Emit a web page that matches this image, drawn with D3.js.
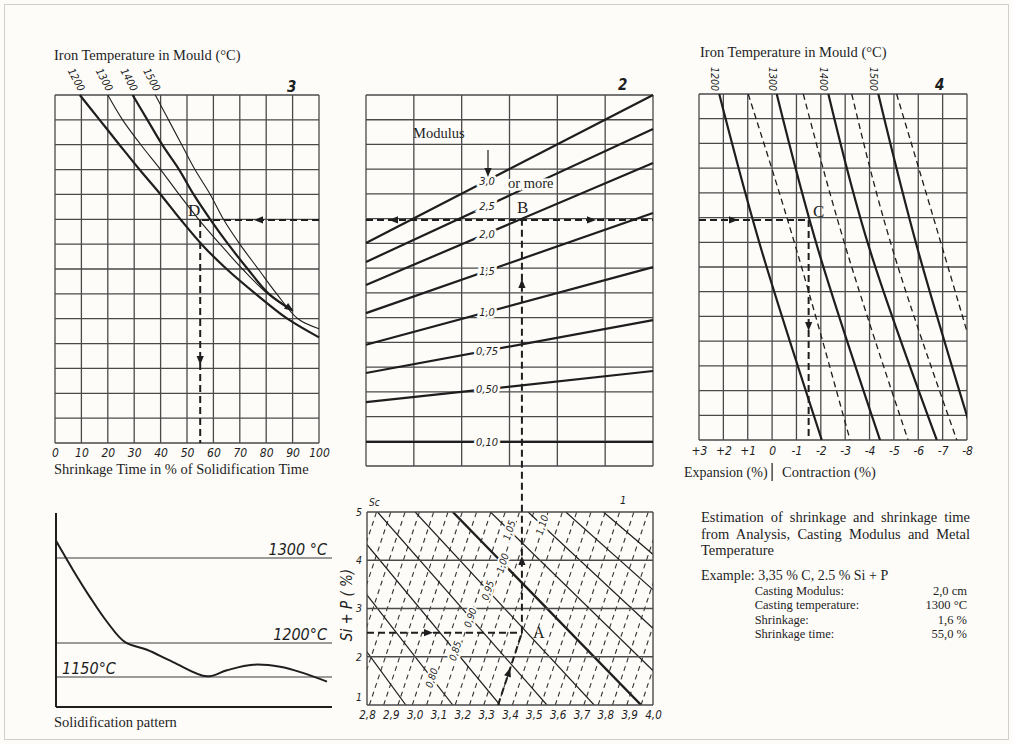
<!DOCTYPE html>
<html>
<head>
<meta charset="utf-8">
<script src="https://cdn.jsdelivr.net/npm/d3@7"></script>
<style>
  body { margin: 0; background: #fdfcf9; }
</style>
</head>
<body>
<div id="chart"></div>
<script>
const width = 1013, height = 744;
const bg = "#fdfcf9", ink = "#1e1e1e", gridInk = "#4a4a4a";
const serif = "'Liberation Serif', 'Times New Roman', serif";
const narrow = "'Liberation Sans Narrow', 'DejaVu Sans Condensed', 'Liberation Sans', sans-serif";
const fs = 14.5; // serif caption size

/// ---- data ----
// panel 3: shrinkage time (% of solidification time) per grid row, one curve per mould temperature
const timeTicks = [0, 10, 20, 30, 40, 50, 60, 70, 80, 90, 100];
const curve1200 = [[9.4,0],[16.9,1],[24.4,2],[32,3],[40,4],[47.5,5],[55.5,6],[65,7],[76,8],[88,9],[100,9.75]];
const curve1300 = [[20,0],[25.6,1],[32.5,2],[40,3],[47,4],[54.4,5],[62.5,6],[71,7],[80.6,8],[90,8.67]];
const curve1400 = [[29.4,0],[35,1],[40.6,2],[47,3],[52.5,4],[58.8,5],[65.6,6],[73,7],[81,8],[90,8.67]];
const curve1500 = [[38,0],[43,1],[48,2],[53,3],[58.8,4],[63.8,5],[70,6],[77,7],[84,8],[92,9],[100,9.4]];
const timeTemps = [1200, 1300, 1400, 1500];

// panel 2: modulus lines, row at left and right edge of the panel
const modulusLabels = ["3,0", "2,5", "2,0", "1,5", "1,0", "0,75", "0,50", "0,10"];
const modulusLeft  = [5.98, 6.75, 7.68, 8.82, 10.1, 11.24, 12.42, 14.03];
const modulusRight = [0, 1.37, 2.75, 4.77, 6.96, 9.1, 11.16, 14.03];

// panel 4: shrinkage (%) lines, value at rows 0, 6.33 and 14
const shrinkTicks = [3, 2, 1, 0, -1, -2, -3, -4, -5, -6, -7, -8];
const shrinkTickLabels = ["+3", "+2", "+1", "0", "-1", "-2", "-3", "-4", "-5", "-6", "-7", "-8"];
const shrinkRows = [0, 6.33, 14];
const shrink1200 = [2.17, 0.43, -2.04];
const shrink1250 = [0.98, -1.01, -3.2];
const shrink1300 = [-0.19, -1.9, -4.43];
const shrink1350 = [-1.28, -3.06, -5.58];
const shrink1400 = [-2.31, -4.02, -6.76];
const shrink1450 = [-3.27, -4.96, -7.58];
const shrink1500 = [-4.36, -5.99, -8.3];
const shrink1550 = [-5.11, -7.02, -9.3];

// panel 1: carbon (%) vs Si + P (%), saturation degree Sc lines
const carbonTicks = [2.8, 2.9, 3.0, 3.1, 3.2, 3.3, 3.4, 3.5, 3.6, 3.7, 3.8, 3.9, 4.0];
const sipTicks = [1, 2, 3, 4, 5];
const scValues = [0.70, 0.75, 0.80, 0.85, 0.90, 0.95, 1.00, 1.05, 1.10, 1.15, 1.20];
const scCarbonAtS1 = [2.765, 2.963, 3.16, 3.358, 3.555, 3.753, 3.95, 4.148, 4.345, 4.543, 4.74];
const scCarbonAtS5 = [2.212, 2.37, 2.528, 2.686, 2.844, 3.002, 3.16, 3.318, 3.476, 3.634, 3.792];
const scLabels = ["0,80", "0,85", "0,90", "0,95", "1,00", "1,05", "1,10"];
const scLabelSip = [1.56, 2.12, 2.81, 3.375, 3.94, 4.62, 4.73];
const guideCarbonAtS1 = [2.57, 2.63, 2.69, 2.75, 2.81, 2.87, 2.93, 2.99, 3.05, 3.11, 3.17, 3.23,
  3.29, 3.35, 3.41, 3.47, 3.53, 3.59, 3.65, 3.71, 3.77, 3.83, 3.89, 3.95];
const guideCarbonAtS5 = [2.84, 2.90, 2.96, 3.02, 3.08, 3.14, 3.20, 3.26, 3.32, 3.38, 3.44, 3.50,
  3.56, 3.62, 3.68, 3.74, 3.80, 3.86, 3.92, 3.98, 4.04, 4.10, 4.16, 4.22];

// solidification pattern (schematic)
const solTime = [0, 6.2, 12.4, 18.6, 25.2, 33.2, 42.7, 55.1, 62.4, 71.9, 81.8, 90.1, 98.9];
const solTemp = [1321, 1286, 1254, 1225, 1201, 1190, 1172, 1151, 1160, 1168, 1165, 1156, 1143];
const solRefTemps = [1300, 1200, 1150];
const solRefLabels = ["1300 °C", "1200°C", "1150°C"];

// worked example
const exCarbon = 3.35, exSip = 2.5, exCarbonEq = 3.45;
const exRow = 5.05;        // modulus 2,0 reading row in panel 2
const exTime = 55, exShrink = -1.5;
const exampleLines = [
  ["Casting Modulus:", "2,0 cm"],
  ["Casting temperature:", "1300 °C"],
  ["Shrinkage:", "1,6 %"],
  ["Shrinkage time:", "55,0 %"]
];

/// ---- svg ----
const svg = d3.select("#chart").append("svg")
  .attr("width", width).attr("height", height)
  .style("background", bg)
  .style("display", "block");

svg.append("rect")
  .attr("x", 4.5).attr("y", 4.5).attr("width", 1004).attr("height", 735)
  .attr("fill", "none").attr("stroke", "#cfcfcf");

function grid(g, x, y, xv, yv, w) {
  g.selectAll(null).data(xv).join("line")
    .attr("x1", d => x(d)).attr("x2", d => x(d))
    .attr("y1", y.range()[0]).attr("y2", y.range()[1])
    .attr("stroke", gridInk).attr("stroke-width", w);
  g.selectAll(null).data(yv).join("line")
    .attr("x1", x.range()[0]).attr("x2", x.range()[1])
    .attr("y1", d => y(d)).attr("y2", d => y(d))
    .attr("stroke", gridInk).attr("stroke-width", w);
}

function arrowHead(g, x, y, angle) {
  g.append("path")
    .attr("d", "M1,0 L-8,-3.6 L-8,3.6 Z")
    .attr("transform", `translate(${x},${y}) rotate(${angle})`)
    .attr("fill", ink);
}

function dashed(g, x1, y1, x2, y2) {
  g.append("line")
    .attr("x1", x1).attr("y1", y1).attr("x2", x2).attr("y2", y2)
    .attr("stroke", ink).attr("stroke-width", 2).attr("stroke-dasharray", "7,4");
}

function label(g, x, y, txt, size, opts = {}) {
  return g.append("text")
    .attr("x", x).attr("y", y)
    .style("font-family", opts.family || serif)
    .style("font-size", size + "px")
    .style("font-style", opts.italic ? "italic" : "normal")
    .style("font-weight", opts.bold ? "bold" : "normal")
    .attr("text-anchor", opts.anchor || "start")
    .attr("fill", ink)
    .text(txt);
}

function styleAxis(ax, size) {
  ax.select(".domain").remove();
  ax.selectAll("text")
    .style("font-family", narrow).style("font-size", size + "px")
    .style("font-style", "italic").attr("fill", ink);
}

/// ---- panel 3: shrinkage time ----
const x3 = d3.scaleLinear().domain([0, 100]).range([55, 319]);
const y3 = d3.scaleLinear().domain([0, 14]).range([95, 443]);
const g3 = svg.append("g");
grid(g3, x3, y3, timeTicks, d3.range(15), 1.3);

const line3 = d3.line().x(d => x3(d[0])).y(d => y3(d[1])).curve(d3.curveCatmullRom);
[curve1200, curve1300, curve1400, curve1500].forEach((c, i) => {
  g3.append("path").attr("d", line3(c))
    .attr("fill", "none").attr("stroke", ink)
    .attr("stroke-width", i % 2 === 0 ? 2.2 : 1.1);
  g3.append("text")
    .attr("transform", `translate(${x3(c[0][0]) - 1},${y3(0) - 3}) rotate(62)`)
    .attr("text-anchor", "end")
    .style("font-family", narrow).style("font-size", "10.5px").style("font-style", "italic")
    .attr("fill", ink)
    .text(timeTemps[i]);
});
{
  const n = curve1400.length;
  const a = curve1400[n - 2], b = curve1400[n - 1];
  const ang = Math.atan2(y3(b[1]) - y3(a[1]), x3(b[0]) - x3(a[0])) * 180 / Math.PI;
  arrowHead(g3, x3(b[0]), y3(b[1]), ang);
}
g3.append("g").attr("transform", `translate(0,${y3(14)})`)
  .call(d3.axisBottom(x3).tickValues(timeTicks).tickSize(0).tickPadding(5))
  .call(ax => styleAxis(ax, 12));
label(g3, 54, 60, "Iron Temperature in Mould (°C)", fs);
label(g3, 54, 474, "Shrinkage Time in % of Solidification Time", fs);
label(g3, 287, 92, "3", 15, { family: narrow, italic: true, bold: true });

/// ---- panel 2: modulus ----
const x2 = d3.scaleLinear().domain([0, 6]).range([366, 653]);
const y2 = d3.scaleLinear().domain([0, 15]).range([95, 466]);
const g2 = svg.append("g");
grid(g2, x2, y2, d3.range(7), d3.range(16), 1.3);
const exY = y2(exRow);

modulusLabels.forEach((m, i) => {
  g2.append("line")
    .attr("x1", x2(0)).attr("y1", y2(modulusLeft[i]))
    .attr("x2", x2(6)).attr("y2", y2(modulusRight[i]))
    .attr("stroke", ink).attr("stroke-width", 2.2);
});
const labX2 = 2.53;
modulusLabels.forEach((m, i) => {
  const r = modulusLeft[i] + (modulusRight[i] - modulusLeft[i]) * labX2 / 6;
  label(g2, x2(labX2), y2(r) + 4, m, 11, { family: narrow, italic: true, anchor: "middle" })
    .attr("stroke", bg).attr("stroke-width", 5).attr("paint-order", "stroke");
});
label(g2, 508, 188, "or more", fs).attr("stroke", bg).attr("stroke-width", 5).attr("paint-order", "stroke");
label(g2, 413, 138, "Modulus", fs);
g2.append("line").attr("x1", 488).attr("x2", 488).attr("y1", 150).attr("y2", 170)
  .attr("stroke", ink).attr("stroke-width", 1.2);
arrowHead(g2, 488, 176, 90);
label(g2, 618, 90, "2", 15, { family: narrow, italic: true, bold: true });

/// ---- panel 4: shrinkage ----
const x4 = d3.scaleLinear().domain([3, -8]).range([699, 967]);
const y4 = d3.scaleLinear().domain([0, 14]).range([94, 440]);
const g4 = svg.append("g");
grid(g4, x4, y4, shrinkTicks, d3.range(15), 1.3);
svg.append("clipPath").attr("id", "clip4").append("rect")
  .attr("x", x4(3)).attr("y", y4(0)).attr("width", x4(-8) - x4(3)).attr("height", y4(14) - y4(0));
const line4 = d3.line().x(d => x4(d[0])).y(d => y4(d[1])).curve(d3.curveNatural);
const shrinkSeries = [shrink1200, shrink1250, shrink1300, shrink1350, shrink1400, shrink1450, shrink1500, shrink1550];
const g4c = g4.append("g").attr("clip-path", "url(#clip4)");
shrinkSeries.forEach((s, i) => {
  const pts = s.map((v, j) => [v, shrinkRows[j]]);
  g4c.append("path").attr("d", line4(pts))
    .attr("fill", "none").attr("stroke", ink)
    .attr("stroke-width", i % 2 === 0 ? 2.2 : 1.3)
    .attr("stroke-dasharray", i % 2 === 0 ? null : "6,4");
  if (i % 2 === 0) {
    g4.append("text")
      .attr("transform", `translate(${x4(s[0]) - 4},${y4(0) - 3}) rotate(90)`)
      .attr("text-anchor", "end").attr("dominant-baseline", "central")
      .style("font-family", narrow).style("font-size", "10.5px").style("font-style", "italic")
      .attr("fill", ink)
      .text(timeTemps[i / 2]);
  }
});
g4.append("g").attr("transform", `translate(0,${y4(14)})`)
  .call(d3.axisBottom(x4).tickValues(shrinkTicks).tickFormat((d, i) => shrinkTickLabels[i]).tickSize(0).tickPadding(6))
  .call(ax => styleAxis(ax, 12));
label(g4, 700, 57, "Iron Temperature in Mould (°C)", fs);
label(g4, 935, 90, "4", 15, { family: narrow, italic: true, bold: true });
label(g4, 684, 477, "Expansion (%)", 14);
g4.append("line").attr("x1", x4(0)).attr("x2", x4(0)).attr("y1", 463).attr("y2", 481)
  .attr("stroke", ink).attr("stroke-width", 1.2);
label(g4, 782, 477, "Contraction (%)", fs);

/// ---- panel 1: analysis ----
const x1 = d3.scaleLinear().domain([2.8, 4.0]).range([367, 653]);
const y1 = d3.scaleLinear().domain([1, 5]).range([705, 512]);
const g1 = svg.append("g");
svg.append("clipPath").attr("id", "clip1").append("rect")
  .attr("x", x1(2.8)).attr("y", y1(5)).attr("width", x1(4.0) - x1(2.8)).attr("height", y1(1) - y1(5));
const g1c = g1.append("g").attr("clip-path", "url(#clip1)");
guideCarbonAtS1.forEach((c, i) => {
  g1c.append("line")
    .attr("x1", x1(c)).attr("y1", y1(1)).attr("x2", x1(guideCarbonAtS5[i])).attr("y2", y1(5))
    .attr("stroke", "#333").attr("stroke-width", 1.1).attr("stroke-dasharray", "5,4");
});
scValues.forEach((sc, i) => {
  g1c.append("line")
    .attr("x1", x1(scCarbonAtS1[i])).attr("y1", y1(1)).attr("x2", x1(scCarbonAtS5[i])).attr("y2", y1(5))
    .attr("stroke", ink).attr("stroke-width", sc === 1.00 ? 2.4 : 1.2);
});
grid(g1, x1, y1, [2.8, 4.0], sipTicks, 1.4);
scLabels.forEach((s, i) => {
  const k = scValues.indexOf(+s.replace(",", "."));
  const t = (scLabelSip[i] - 1) / 4;
  const c = scCarbonAtS1[k] + (scCarbonAtS5[k] - scCarbonAtS1[k]) * t;
  g1.append("text")
    .attr("transform", `translate(${x1(c)},${y1(scLabelSip[i])}) rotate(-72)`)
    .attr("text-anchor", "middle").attr("dominant-baseline", "central")
    .style("font-family", narrow).style("font-size", "10px").style("font-style", "italic")
    .attr("fill", ink).attr("stroke", bg).attr("stroke-width", 4).attr("paint-order", "stroke")
    .text(s);
});
g1.append("g").attr("transform", `translate(0,${y1(1)})`)
  .call(d3.axisBottom(x1).tickValues(carbonTicks).tickFormat(d => d3.format(".1f")(d).replace(".", ",")).tickSize(0).tickPadding(6))
  .call(ax => styleAxis(ax, 11.5));
g1.append("g").attr("transform", `translate(${x1(2.8) - 1},0)`)
  .call(d3.axisLeft(y1).tickValues(sipTicks).tickFormat(d3.format("d")).tickSize(0).tickPadding(4))
  .call(ax => styleAxis(ax, 10.5))
  .call(ax => ax.selectAll(".tick text").filter(d => d === 1).attr("dy", "-0.45em"));
g1.append("text")
  .attr("transform", `translate(352,605) rotate(-90)`)
  .attr("text-anchor", "middle")
  .style("font-family", narrow).style("font-size", "15px").style("font-style", "italic")
  .attr("fill", ink).text("Si + P ( %)");
label(g1, 369, 506, "Sc", 10, { family: narrow, italic: true });
label(g1, 620, 504, "1", 11, { family: narrow, italic: true });

/// ---- example reading (dashed) ----
const gx = svg.append("g");
const xA = x1(exCarbonEq), yA = y1(exSip);
// panel 1
dashed(gx, x1(2.8), yA, xA, yA);
arrowHead(gx, 432, yA, 0);
dashed(gx, x1(exCarbon), y1(1), xA, yA);
{
  const ang = Math.atan2(yA - y1(1), xA - x1(exCarbon)) * 180 / Math.PI;
  arrowHead(gx, (x1(exCarbon) + xA) / 2, (y1(1) + yA) / 2, ang);
}
label(gx, 533, yA + 5, "A", 16);
// vertical from A through panel 2 to B
dashed(gx, xA, yA, xA, exY);
arrowHead(gx, xA, 557, -90);
arrowHead(gx, xA, 280, -90);
// panel 2 horizontal
dashed(gx, x2(0), exY, x2(6), exY);
arrowHead(gx, 390, exY, 180);
arrowHead(gx, 595, exY, 0);
label(gx, 517, exY - 7, "B", 17);
// panel 3 to D
dashed(gx, x3(100), exY, x3(exTime), exY);
arrowHead(gx, 255, exY, 180);
dashed(gx, x3(exTime), exY, x3(exTime), y3(14));
arrowHead(gx, x3(exTime), 364, 90);
label(gx, 188, exY - 4, "D", 17);
// panel 4 to C
dashed(gx, x4(3), exY, x4(exShrink), exY);
arrowHead(gx, 737, exY, 0);
dashed(gx, x4(exShrink), exY, x4(exShrink), y4(14));
arrowHead(gx, x4(exShrink), 330, 90);
label(gx, 813, exY - 3, "C", 17);

/// ---- solidification pattern ----
const xs = d3.scaleLinear().domain([0, 100]).range([56, 330]);
const ys = d3.scaleLinear().domain([1105, 1150, 1200, 1300, 1355]).range([707, 677, 643, 558, 513]);
const gs = svg.append("g");
gs.selectAll(null).data(solRefTemps).join("line")
  .attr("x1", xs(0)).attr("x2", 332)
  .attr("y1", d => ys(d)).attr("y2", d => ys(d))
  .attr("stroke", "#3a3a3a").attr("stroke-width", 1.2);
gs.append("line").attr("x1", xs(0)).attr("x2", xs(0)).attr("y1", ys(1355)).attr("y2", ys(1105))
  .attr("stroke", ink).attr("stroke-width", 2);
gs.append("line").attr("x1", xs(0)).attr("x2", 332).attr("y1", ys(1105)).attr("y2", ys(1105))
  .attr("stroke", ink).attr("stroke-width", 2);
gs.append("path")
  .attr("d", d3.line().x((d, i) => xs(solTime[i])).y(d => ys(d)).curve(d3.curveCatmullRom)(solTemp))
  .attr("fill", "none").attr("stroke", ink).attr("stroke-width", 2);
label(gs, 327, ys(1300) - 3, solRefLabels[0], 16, { family: narrow, italic: true, anchor: "end" });
label(gs, 327, ys(1200) - 3, solRefLabels[1], 16, { family: narrow, italic: true, anchor: "end" });
label(gs, 62, ys(1150) - 3, solRefLabels[2], 16, { family: narrow, italic: true });
label(gs, 54, 727, "Solidification pattern", fs);

/// ---- description text ----
const gt = svg.append("g");
const tx = 701, tr = 970, tfs = 14.5, rfs = 12.5;
// justify by widening the word gaps
function justified(y, txt) {
  const t = label(gt, tx, y, txt, tfs);
  const gaps = txt.split(" ").length - 1;
  const extra = (tr - tx - t.node().getComputedTextLength()) / gaps;
  if (extra > 0) t.style("word-spacing", extra + "px");
  return t;
}
justified(522, "Estimation of shrinkage and shrinkage time");
justified(538.5, "from Analysis, Casting Modulus and Metal");
label(gt, tx, 555, "Temperature", tfs);
const exHead = label(gt, tx, 580, "Example: ", 14);
const colX = tx + exHead.node().getComputedTextLength();
exHead.text("Example: 3,35 % C, 2.5 % Si + P");
exampleLines.forEach((r, i) => {
  label(gt, colX, 595 + i * 14.4, r[0], rfs);
  label(gt, 967, 595 + i * 14.4, r[1], rfs, { anchor: "end" });
});
</script>
</body>
</html>
